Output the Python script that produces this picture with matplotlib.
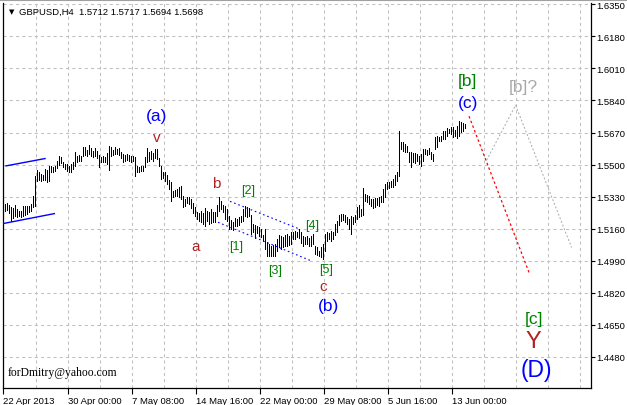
import matplotlib
matplotlib.use("Agg")
import matplotlib.pyplot as plt
from matplotlib.ticker import FixedLocator

# GBPUSD H4 bars (high / low per bar)
highs = [
    1.5289, 1.5295, 1.5284, 1.5274, 1.5268, 1.5284, 1.5263, 1.5252, 1.5252, 1.5279,
    1.5279, 1.5279, 1.5279, 1.5289, 1.5332, 1.5438, 1.5470, 1.5459, 1.5449, 1.5443,
    1.5475, 1.5470, 1.5491, 1.5491, 1.5486, 1.5491, 1.5518, 1.5544, 1.5539, 1.5512,
    1.5502, 1.5502, 1.5491, 1.5502, 1.5512, 1.5566, 1.5544, 1.5550, 1.5544, 1.5592,
    1.5592, 1.5576, 1.5603, 1.5587, 1.5571, 1.5587, 1.5571, 1.5550, 1.5539, 1.5544,
    1.5539, 1.5560, 1.5597, 1.5592, 1.5576, 1.5592, 1.5582, 1.5587, 1.5566, 1.5555,
    1.5550, 1.5555, 1.5550, 1.5544, 1.5544, 1.5539, 1.5491, 1.5486, 1.5491, 1.5491,
    1.5539, 1.5587, 1.5566, 1.5571, 1.5560, 1.5582, 1.5582, 1.5534, 1.5491, 1.5459,
    1.5459, 1.5443, 1.5417, 1.5406, 1.5358, 1.5364, 1.5369, 1.5380, 1.5385, 1.5332,
    1.5316, 1.5327, 1.5327, 1.5316, 1.5295, 1.5274, 1.5247, 1.5242, 1.5252, 1.5242,
    1.5268, 1.5252, 1.5247, 1.5263, 1.5247, 1.5247, 1.5284, 1.5327, 1.5305, 1.5284,
    1.5279, 1.5263, 1.5226, 1.5205, 1.5194, 1.5215, 1.5210, 1.5220, 1.5226, 1.5263,
    1.5279, 1.5274, 1.5268, 1.5231, 1.5183, 1.5178, 1.5173, 1.5167, 1.5157, 1.5125,
    1.5157, 1.5088, 1.5077, 1.5066, 1.5072, 1.5077, 1.5104, 1.5125, 1.5120, 1.5114,
    1.5125, 1.5130, 1.5120, 1.5141, 1.5141, 1.5146, 1.5141, 1.5157, 1.5141, 1.5120,
    1.5114, 1.5120, 1.5109, 1.5120, 1.5130, 1.5066, 1.5061, 1.5040, 1.5061, 1.5077,
    1.5130, 1.5141, 1.5136, 1.5146, 1.5141, 1.5183, 1.5199, 1.5231, 1.5236, 1.5236,
    1.5231, 1.5220, 1.5210, 1.5226, 1.5220, 1.5231, 1.5274, 1.5284, 1.5263, 1.5374,
    1.5343, 1.5337, 1.5332, 1.5316, 1.5316, 1.5321, 1.5321, 1.5327, 1.5332, 1.5369,
    1.5396, 1.5406, 1.5406, 1.5412, 1.5422, 1.5443, 1.5459, 1.5677, 1.5619, 1.5619,
    1.5608, 1.5597, 1.5566, 1.5566, 1.5560, 1.5560, 1.5555, 1.5544, 1.5555, 1.5582,
    1.5582, 1.5576, 1.5587, 1.5566, 1.5555, 1.5645, 1.5651, 1.5645, 1.5651, 1.5677,
    1.5677, 1.5693, 1.5688, 1.5698, 1.5698, 1.5682, 1.5704, 1.5730, 1.5725, 1.5720,
    1.5717,
]
lows = [
    1.5252, 1.5258, 1.5242, 1.5199, 1.5215, 1.5226, 1.5220, 1.5226, 1.5220, 1.5226,
    1.5231, 1.5236, 1.5247, 1.5252, 1.5274, 1.5279, 1.5412, 1.5417, 1.5412, 1.5417,
    1.5417, 1.5406, 1.5412, 1.5459, 1.5459, 1.5465, 1.5481, 1.5497, 1.5507, 1.5486,
    1.5475, 1.5465, 1.5459, 1.5459, 1.5475, 1.5491, 1.5512, 1.5518, 1.5518, 1.5544,
    1.5550, 1.5544, 1.5555, 1.5544, 1.5539, 1.5544, 1.5534, 1.5486, 1.5512, 1.5512,
    1.5512, 1.5502, 1.5470, 1.5544, 1.5550, 1.5555, 1.5555, 1.5550, 1.5534, 1.5512,
    1.5518, 1.5523, 1.5518, 1.5512, 1.5518, 1.5438, 1.5459, 1.5459, 1.5465, 1.5465,
    1.5486, 1.5512, 1.5518, 1.5528, 1.5518, 1.5534, 1.5528, 1.5491, 1.5422, 1.5428,
    1.5412, 1.5396, 1.5369, 1.5305, 1.5327, 1.5332, 1.5332, 1.5327, 1.5316, 1.5274,
    1.5279, 1.5295, 1.5289, 1.5268, 1.5242, 1.5226, 1.5210, 1.5199, 1.5194, 1.5183,
    1.5173, 1.5199, 1.5183, 1.5189, 1.5194, 1.5194, 1.5226, 1.5252, 1.5263, 1.5247,
    1.5210, 1.5199, 1.5157, 1.5157, 1.5151, 1.5173, 1.5173, 1.5178, 1.5194, 1.5199,
    1.5226, 1.5220, 1.5226, 1.5130, 1.5141, 1.5109, 1.5136, 1.5120, 1.5114, 1.5093,
    1.5051, 1.5013, 1.5013, 1.5013, 1.5013, 1.5013, 1.5040, 1.5061, 1.5051, 1.5061,
    1.5066, 1.5066, 1.5072, 1.5077, 1.5104, 1.5104, 1.5114, 1.5109, 1.5082, 1.5066,
    1.5077, 1.5077, 1.5066, 1.5066, 1.5077, 1.5024, 1.5019, 1.5013, 1.5008, 1.4997,
    1.5040, 1.5093, 1.5104, 1.5093, 1.5104, 1.5125, 1.5141, 1.5178, 1.5199, 1.5205,
    1.5194, 1.5183, 1.5157, 1.5130, 1.5183, 1.5194, 1.5210, 1.5220, 1.5226, 1.5231,
    1.5305, 1.5300, 1.5289, 1.5279, 1.5268, 1.5274, 1.5284, 1.5279, 1.5300, 1.5300,
    1.5327, 1.5369, 1.5374, 1.5380, 1.5380, 1.5390, 1.5412, 1.5438, 1.5582, 1.5571,
    1.5566, 1.5566, 1.5512, 1.5486, 1.5512, 1.5507, 1.5518, 1.5502, 1.5491, 1.5518,
    1.5555, 1.5550, 1.5555, 1.5528, 1.5518, 1.5582, 1.5592, 1.5624, 1.5624, 1.5635,
    1.5635, 1.5651, 1.5666, 1.5661, 1.5645, 1.5651, 1.5640, 1.5651, 1.5672, 1.5677,
    1.5694,
]

date_ticks = [-1, 31.5, 63.5, 95.5, 127.5, 159.5, 191.5, 223.5]
date_labels = ["22 Apr 2013", "30 Apr 00:00", "7 May 08:00", "14 May 16:00",
               "22 May 00:00", "29 May 08:00", "5 Jun 16:00", "13 Jun 00:00"]
price_ticks = [1.4480, 1.4650, 1.4820, 1.4990, 1.5160, 1.5330, 1.5500,
               1.5670, 1.5840, 1.6010, 1.6180, 1.6350]

# drawn objects: (bar index, price) pairs
chan_up = [(0.5, 1.5493), (20, 1.5532)]
chan_dn = [(-1, 1.5187), (24.7, 1.5240)]
wedge_up = [(112.5, 1.5305), (147.5, 1.5157)]
wedge_dn = [(106.5, 1.5194), (152.5, 1.4992)]
red_path = [(232, 1.5757), (262, 1.4928)]
grey_path = [(240.8, 1.5523), (255.3, 1.5815), (283.3, 1.5060)]

BLUE, BROWN, GREEN, GREY = "#0000ff", "#b22222", "#008000", "#a9a9a9"
wave_labels = [
    ("(a)", 76, 1.5762, BLUE, 12.5), ("v", 76, 1.5645, BROWN, 11),
    ("b", 105.8, 1.5401, BROWN, 11), ("a", 95.3, 1.5066, BROWN, 11),
    ("[1]", 115.8, 1.5066, GREEN, 9), ("[2]", 121.7, 1.5364, GREEN, 9),
    ("[3]", 135, 1.4939, GREEN, 9), ("[4]", 153.8, 1.5181, GREEN, 9),
    ("[5]", 160.7, 1.4944, GREEN, 9), ("c", 159.2, 1.4854, BROWN, 11),
    ("(b)", 161.8, 1.4753, BLUE, 12.5), ("[b]", 231, 1.5945, GREEN, 12.5),
    ("(c)", 231.7, 1.5828, BLUE, 12.5), ("[b]?", 259, 1.5913, GREY, 12.5),
    ("[c]", 264.5, 1.4684, GREEN, 12.5), ("Y", 264.3, 1.4566, BROWN, 17),
    ("(D)", 265.8, 1.4411, BLUE, 16.5),
]

plt.rcParams['font.family'] = ['Liberation Sans', 'DejaVu Sans']

fig = plt.figure(figsize=(6.27, 4.06), dpi=100)
ax = fig.add_axes([3 / 627, 17 / 406, 588 / 627, 385 / 406])

idx = list(range(len(highs)))
ax.vlines(idx, lows, highs, color="black", linewidth=0.72, antialiased=False, zorder=3)

for seg, c, ls, lw in [(chan_up, BLUE, "-", 1.0), (chan_dn, BLUE, "-", 1.0),
                       (wedge_up, BLUE, (0, (1.5, 2.5)), 0.8),
                       (wedge_dn, BLUE, (0, (1.5, 2.5)), 0.8),
                       (red_path, "red", (0, (2, 2)), 0.9),
                       (grey_path, GREY, (0, (2, 2)), 0.7)]:
    xs, ys = zip(*seg)
    ax.plot(xs, ys, color=c, linestyle=ls, linewidth=lw, zorder=4)

for txt, x, y, c, s in wave_labels:
    ax.text(x, y, txt, color=c, fontsize=s, ha="center", va="center", zorder=5)

ax.set_xlim(-1, 293)
ax.set_ylim(1.4315, 1.6357)

ax.xaxis.set_major_locator(FixedLocator(date_ticks))
ax.set_xticklabels(date_labels, fontsize=6.8, ha="left")
ax.xaxis.set_minor_locator(FixedLocator([15.5 + 16 * k for k in range(18)]))
ax.tick_params(axis="x", which="major", length=4, width=0.8, pad=2, direction="out")
ax.tick_params(axis="x", which="minor", length=0)

ax.yaxis.tick_right()
ax.set_yticks(price_ticks)
ax.set_yticklabels([f"{p:.4f}" for p in price_ticks], fontsize=6.8)
ax.tick_params(axis="y", length=3, width=0.8, pad=1, direction="out")

ax.grid(which="both", color="#c0c0c0", linestyle=(0, (3, 3)), linewidth=0.75)
ax.set_axisbelow(True)
for side in ["left", "bottom", "right"]:
    ax.spines[side].set_linewidth(0.9)
ax.spines["top"].set_visible(False)

fig.text(12 / 627, 1 - 12 / 406, "\u25bc", fontsize=5, family="DejaVu Sans",
         ha="center", va="center")
fig.text(19 / 627, 1 - 12 / 406, "GBPUSD,H4  1.5712 1.5717 1.5694 1.5698",
         fontsize=6.8, ha="left", va="center")
ax.text(5 / 588, 16 / 385, "forDmitry@yahoo.com", transform=ax.transAxes,
        fontsize=8.4, family="Liberation Serif", ha="left", va="center")

fig.add_artist(plt.Line2D([0, 1], [1 - 1 / 406, 1 - 1 / 406], color="#a0a0a0",
                          linewidth=1.5, transform=fig.transFigure))

fig.savefig("out.png", dpi=100)
